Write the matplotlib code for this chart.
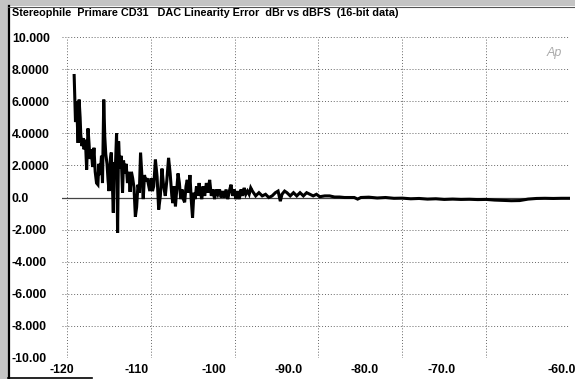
import matplotlib
matplotlib.use("Agg")
import matplotlib.pyplot as plt
from matplotlib.patches import Rectangle
from matplotlib.lines import Line2D
import numpy as np

plt.rcParams['font.family'] = ['Liberation Sans', 'DejaVu Sans']

title = "Stereophile  Primare CD31   DAC Linearity Error  dBr vs dBFS  (16-bit data)"

# ---- data: level (dBFS) and linearity error (dB) ----
x_low = [-119.14, -119.06, -118.98, -118.86, -118.75, -118.67, -118.55, -118.43, -118.35, -118.2,
         -118.08, -117.96, -117.8, -117.65, -117.49, -117.37, -117.26, -117.1, -116.94, -116.78,
         -116.63, -116.47, -116.31, -116.2, -116.04, -115.88, -115.76, -115.61, -115.49, -115.37,
         -115.22, -115.1, -114.98, -114.82, -114.71, -114.59, -114.47, -114.35, -114.24, -114.08,
         -113.96, -113.84, -113.69, -113.53, -113.37, -113.25, -113.1, -112.94, -112.78, -112.63,
         -112.47, -112.31, -112.16, -112.0, -111.84, -111.69, -111.53, -111.37, -111.22, -111.06,
         -110.9, -110.75, -110.59, -110.43, -110.27, -110.12, -109.96, -109.8]
y_low = [7.6, 6.1, 4.7, 6.0, 4.5, 3.4, 6.1, 5.0, 3.9, 3.2,
         3.7, 3.0, 3.6, 1.74, 4.3, 3.4, 2.4, 3.0, 1.9, 3.1,
         1.6, 0.9, 0.8, 2.1, 1.4, 2.6, 0.9, 6.1, 3.8, 2.7,
         2.1, 1.1, 0.4, 2.4, 2.8, 0.9, -0.95, 2.2, 1.6, 4.0,
         -2.2, 3.5, 1.8, 2.6, 0.3, 2.3, 1.5, 2.1, 0.9, 1.6,
         0.35, 1.6, 1.2, 0.6, -1.2, -0.6, 0.8, 0.3, 2.8, 1.4,
         -0.1, 1.4, 1.0, 1.2, 0.8, 0.4, 1.2, 0.4]

x_mid = [-109.65, -109.45, -109.25, -109.06, -108.86, -108.67, -108.47, -108.27, -108.08, -107.88,
         -107.69, -107.49, -107.37, -107.22, -107.06, -106.9, -106.75, -106.59, -106.43, -106.27,
         -106.12, -105.96, -105.8, -105.65, -105.49, -105.33, -105.18, -105.02, -104.86, -104.71,
         -104.55, -104.39, -104.24, -104.08, -103.92, -103.76, -103.57, -103.37, -103.18, -102.98,
         -102.78, -102.59, -102.39, -102.2, -102.0, -101.8, -101.61, -101.41, -101.22, -101.02,
         -100.82, -100.63, -100.43, -100.24, -100.04, -99.84, -99.65, -99.45, -99.25, -99.06,
         -98.86, -98.67, -98.47, -98.27, -98.08]
y_mid = [0.7, 2.36, 1.3, -0.75, 0.1, 1.8, 0.7, 0.1, 1.1, 2.47,
         1.5, 0.1, -0.35, 0.7, -0.55, 0.5, 1.5, 0.9, -0.1, 0.5,
         -0.1, -0.3, 0.7, 1.1, 0.3, 1.4, -0.1, -1.26, 0.3, -0.1,
         0.7, 0.1, 0.9, 0.3, -0.1, 0.7, 0.1, 0.9, 0.3, 1.1,
         0.1, 0.5, -0.1, 0.5, 0.2, 0.5, 0.0, 0.4, 0.0, 0.5,
         -0.1, 0.4, 0.8, 0.1, 0.5, -0.1, 0.4, -0.1, 0.5, 0.1,
         0.6, 0.2, 0.4, 0.2, 0.6]

x_high = [-97.88, -97.49, -97.1, -96.71, -96.31, -95.92, -95.53, -95.14, -94.82, -94.55,
          -94.35, -94.04, -93.76, -93.37, -92.98, -92.59, -92.2, -91.8, -91.41, -91.02,
          -90.63, -90.24, -89.84, -89.25, -88.67, -88.08, -87.49, -86.9, -86.31, -85.73,
          -85.33, -84.94]
y_high = [0.4, 0.1, 0.3, 0.1, 0.2, 0.0, 0.1, 0.3, 0.4, -0.23,
          0.2, 0.4, 0.3, 0.1, 0.3, 0.1, 0.3, 0.1, 0.3, 0.2,
          0.1, 0.2, 0.05, 0.1, 0.1, 0.03, 0.03, 0.0, 0.0, 0.0,
          -0.1, 0.0]

x_tail = [-84.0, -83.0, -82.0, -81.0, -80.0, -79.0, -78.0, -77.0, -76.0, -75.0,
          -74.0, -73.0, -72.0, -71.0, -70.0, -69.0, -68.0, -67.0, -66.0, -65.0,
          -64.0, -63.0, -62.0, -61.0, -60.0]
y_tail = [0.02, -0.03, 0.0, -0.05, -0.04, -0.08, -0.06, -0.1, -0.08, -0.12,
          -0.1, -0.12, -0.11, -0.13, -0.12, -0.16, -0.18, -0.2, -0.19, -0.1,
          -0.06, -0.05, -0.06, -0.05, -0.05]

x_ticks = [-120, -110, -100, -90, -80, -70, -60]
x_tick_labels = ["-120", "-110", "-100", "-90.0", "-80.0", "-70.0", "-60.0"]
y_ticks = [10, 8, 6, 4, 2, 0, -2, -4, -6, -8, -10]
y_tick_labels = ["10.000", "8.0000", "6.0000", "4.0000", "2.0000", "0.0",
                 "-2.000", "-4.000", "-6.000", "-8.000", "-10.00"]
# label anchor positions (the original prints x labels left of the grid lines)
x_label_pos = [-120.59, -111.65, -102.47, -93.53, -84.47, -75.29, -61.0]

xs = np.array(x_low + x_mid + x_high + x_tail)
ys = np.array(y_low + y_mid + y_high + y_tail)

W, H = 575, 379
fig = plt.figure(figsize=(W / 100, H / 100), dpi=100)
fig.patch.set_facecolor("white")

ax = fig.add_axes([62 / W, 1 - 358 / H, (570 - 62) / W, (358 - 37) / H])
ax.set_xlim(-120, -60)
ax.set_ylim(-10, 10)
for s in ax.spines.values():
    s.set_visible(False)

grid_kw = dict(color="#666666", lw=0.7, linestyle=(0, (1, 2)), zorder=1)
for yv in y_ticks:
    if yv == 0:
        ax.axhline(yv, color="#444444", lw=0.9, zorder=1)
    else:
        ax.axhline(yv, **grid_kw)
for xv in x_ticks:
    ax.axvline(xv, **grid_kw)

ax.plot(xs, ys, color="black", lw=2.2, solid_joinstyle="miter", zorder=3)

ax.set_yticks(y_ticks)
ax.set_yticklabels(y_tick_labels, fontsize=8.8, fontweight="bold", ha="left")
ax.tick_params(axis="y", length=0, pad=36)
ax.set_xticks(x_ticks)
ax.set_xticklabels([])
ax.tick_params(axis="x", length=0)
ax.set_xticks(x_label_pos, minor=True)
ax.set_xticklabels(x_tick_labels, minor=True, fontsize=8.8, fontweight="bold")
ax.tick_params(axis="x", which="minor", length=0, pad=4)

ax.text(0.985, 0.97, "Ap", transform=ax.transAxes, fontsize=9, style="italic",
        color="#aaaaaa", ha="right", va="top")

fig.text(12 / W, 1 - 13 / H, title, fontsize=7.8, fontweight="bold", va="center", ha="left")

# scanned page frame
fig.patches.append(Rectangle((0, 0), 8 / W, 1, transform=fig.transFigure,
                             facecolor="#c4c4c4", edgecolor="none", zorder=0))
fig.patches.append(Rectangle((0, 1 - 6 / H), 1, 6 / H, transform=fig.transFigure,
                             facecolor="#c4c4c4", edgecolor="none", zorder=0))
fig.lines.append(Line2D([8.5 / W, 8.5 / W], [0, 1 - 6 / H], transform=fig.transFigure,
                        color="black", lw=1.6))
fig.lines.append(Line2D([8 / W, 1], [1 - 6.5 / H, 1 - 6.5 / H], transform=fig.transFigure,
                        color="#555555", lw=0.8))
fig.lines.append(Line2D([8 / W, 92 / W], [1 - 378 / H, 1 - 378 / H], transform=fig.transFigure,
                        color="black", lw=1.2))

fig.savefig("out.png", dpi=100)
